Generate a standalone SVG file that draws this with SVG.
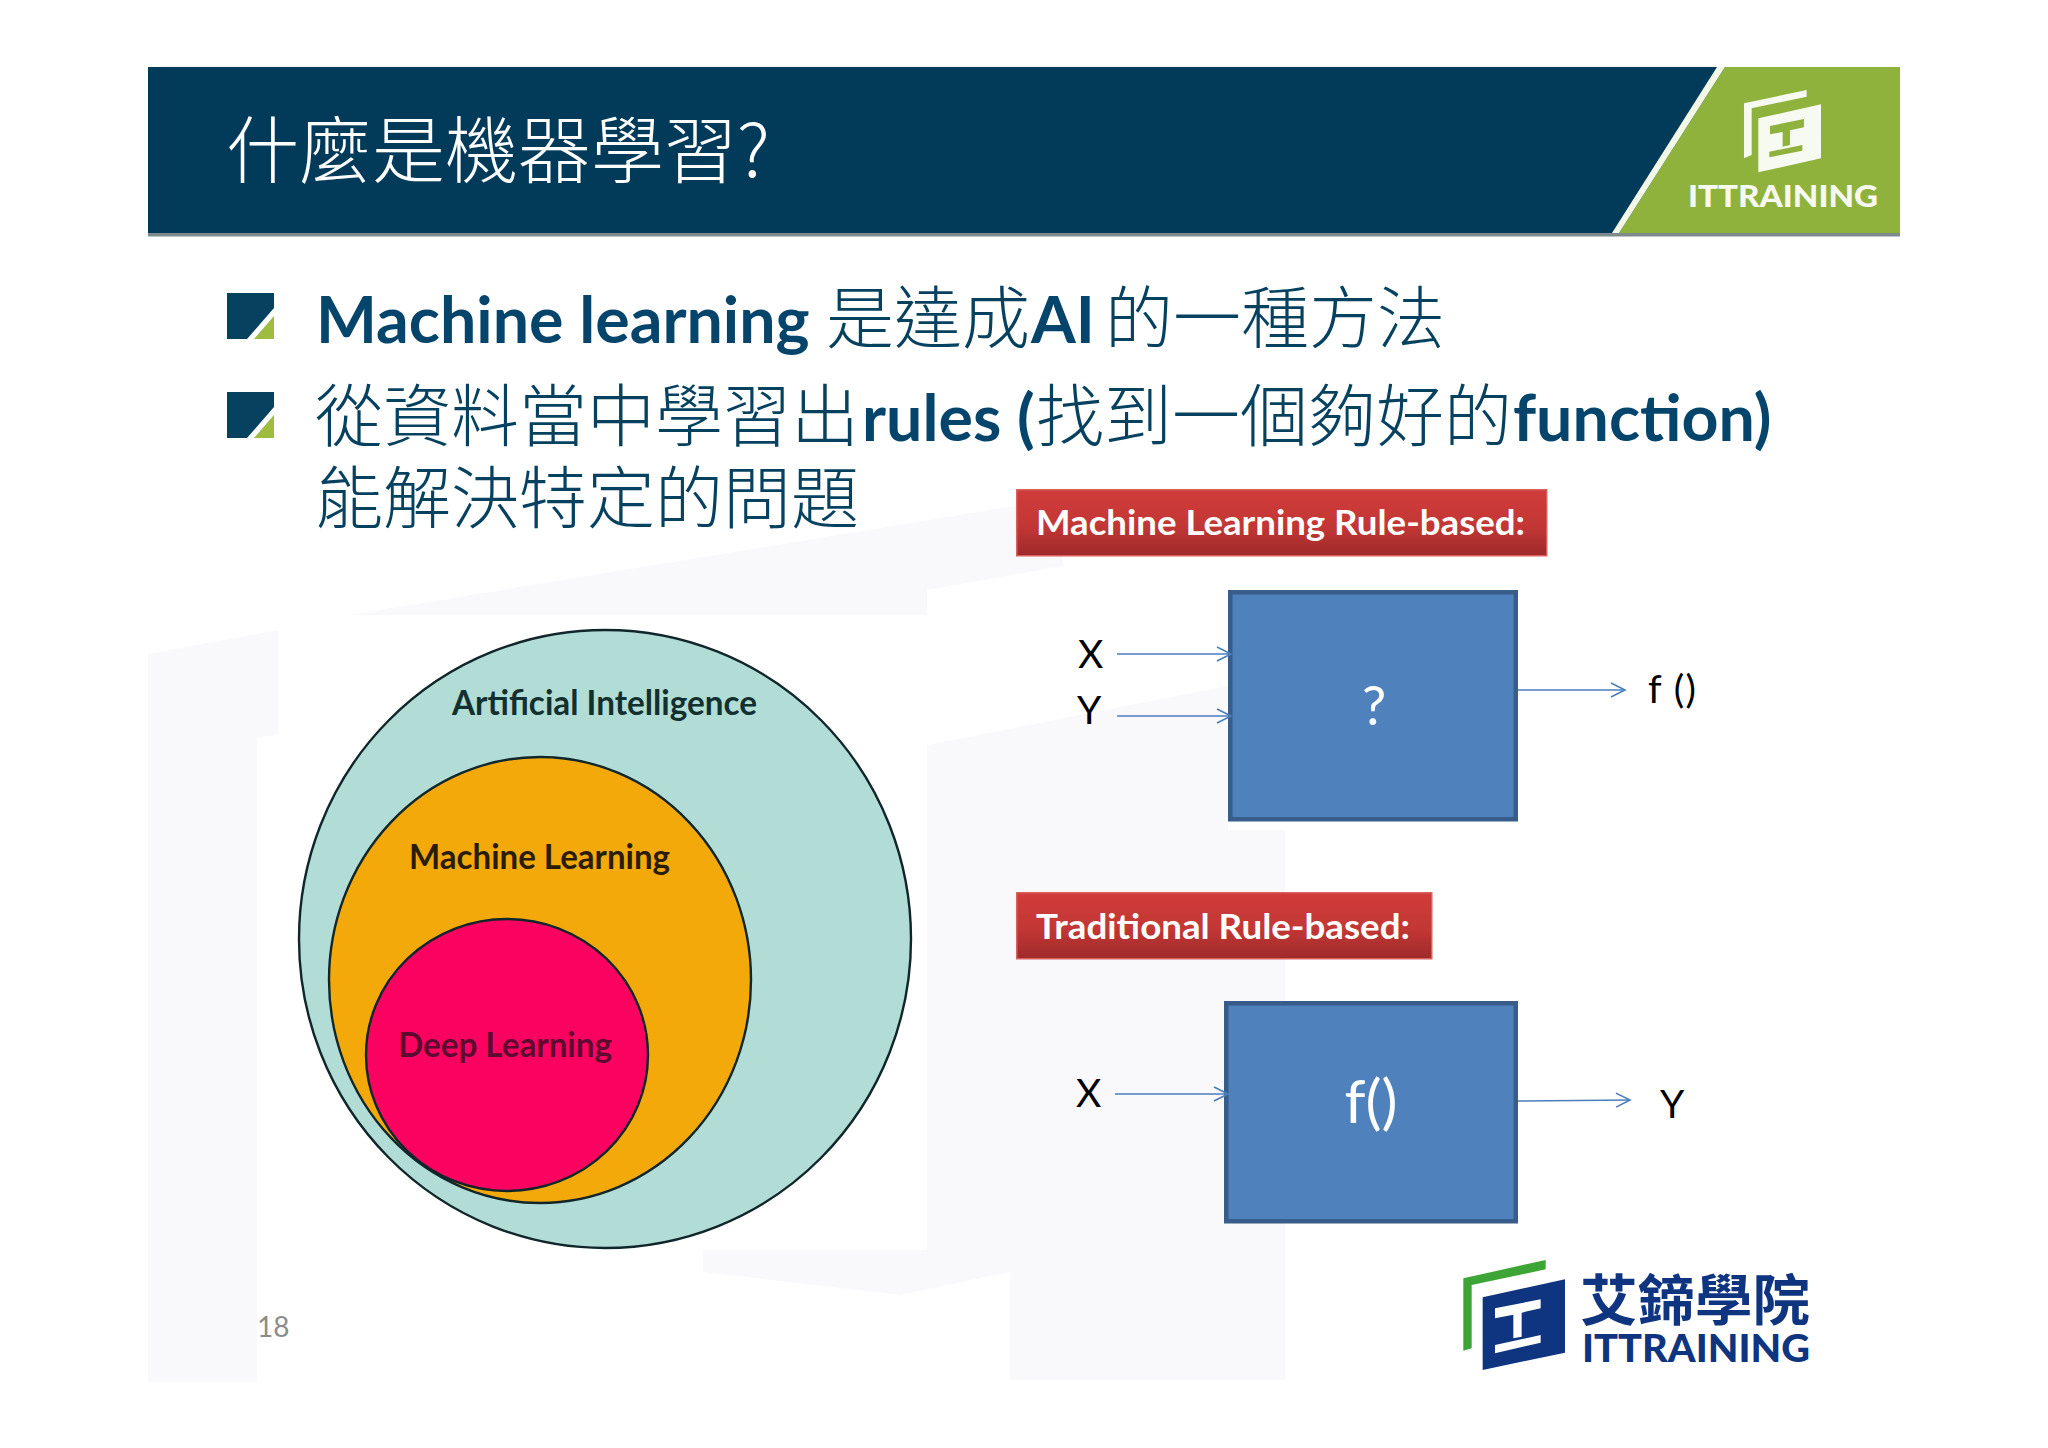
<svg xmlns="http://www.w3.org/2000/svg" width="2048" height="1448" viewBox="0 0 2048 1448">
<style>
.cjk{font-family:"Noto Sans CJK TC","Noto Sans CJK SC",sans-serif;font-weight:300}
.lat{font-family:Lato,"Open Sans",sans-serif}
.navy{fill:#06415f}
.body{font-size:68px;font-family:"Noto Sans CJK TC","Noto Sans CJK SC",sans-serif;font-weight:300}
.en{font-family:Lato,"Open Sans",sans-serif;font-weight:700;font-size:64.5px;fill:#05456b}
.tag{font-size:34px;fill:#fff;font-weight:700}
.lbl{font-size:39px;fill:#000}
.vn{font-family:Lato,"Open Sans",sans-serif;font-weight:700;font-size:34px}
.box{fill:#4f81bd;stroke:#385d8a;stroke-width:4.5}
.red{fill:url(#redg);stroke:#d9605c;stroke-width:1.5}
.arr{fill:none;stroke:#4a7ebb;stroke-width:1.6;marker-end:url(#open)}
.ven{stroke:#10262a;stroke-width:2.4}
.faint{fill:#f9f9fb}
</style>
<defs>
<linearGradient id="redg" x1="0" y1="0" x2="0" y2="1"><stop offset="0" stop-color="#d03c3a"/><stop offset="0.55" stop-color="#c23735"/><stop offset="1" stop-color="#9e2a2a"/></linearGradient>
<marker id="open" markerWidth="18" markerHeight="20" refX="15" refY="8" orient="auto" markerUnits="userSpaceOnUse" viewBox="0 0 18 16"><path d="M1 1 L15 8 L1 15" fill="none" stroke="#4a7ebb" stroke-width="1.6"/></marker>
</defs>
<rect width="2048" height="1448" fill="#fff"/>
<g id="background">
<polygon class="faint" points="148,654 278,630 278,735 257,738 257,1382 148,1382"/>
<polygon class="faint" points="350,615 1063,498 1063,566 927,590 927,615"/>
<polygon class="faint" points="927,745 1228,686 1228,830 1285,830 1285,1380 1010,1380 1010,1272 900,1295 703,1272 703,1250 927,1250"/>
</g>
<g id="header">
<rect x="148" y="67" width="1752" height="166" fill="#023b59"/>
<rect x="148" y="233" width="1752" height="3.5" fill="#7f8a8c"/>
<polygon points="1725,67 1900,67 1900,233 1619,233" fill="#8fb23d"/>
<polygon points="1717,67 1725,67 1619,233 1612,233" fill="#f2f7e6"/>
<text class="cjk" x="226" y="177" font-size="73" fill="#fff">什麼是機器學習?</text>
<g transform="translate(1600,50) scale(.3333)" fill="#f7faf0">
<polygon points="432,160 620,120 620,140 455,175 455,315 432,325"/>
<path fill-rule="evenodd" d="M475,205 L663,163 L663,325 L475,367Z M510,228 L612,207 L612,232 L570,241 L570,285 L548,290 L548,246 L510,253Z M508,305 L607,285 L607,302 L508,322Z"/>
</g>
<text class="lat" font-weight="900" x="1688" y="207" font-size="30" fill="#f7faf0" textLength="190" lengthAdjust="spacingAndGlyphs">ITTRAINING</text>
</g>
<g id="bullets">
<polygon class="navy" points="227,293 274,293 274,308 247,339 227,339"/>
<polygon points="274,316 274,339 254,339" fill="#9ebc3f"/>
<polygon class="navy" points="227,392 274,392 274,407 247,438 227,438"/>
<polygon points="274,415 274,438 254,438" fill="#9ebc3f"/>
<text class="body navy" y="343"><tspan class="en" x="316">Machine learning</tspan><tspan x="826">是達成</tspan><tspan class="en" x="1031">AI</tspan><tspan x="1105">的一種方法</tspan></text>
<text class="body navy" y="441"><tspan x="315">從資料當中學習出</tspan><tspan class="en" x="862">rules (</tspan><tspan x="1036">找到一個夠好的</tspan><tspan class="en" x="1513">function)</tspan></text>
<text class="body navy" x="315" y="523">能解決特定的問題</text>
</g>
<g id="venn-ai"><ellipse class="ven" cx="605" cy="939" rx="306" ry="309" fill="#b2ddd6"/><text class="vn" x="452" y="715" fill="#12302f" textLength="305" lengthAdjust="spacingAndGlyphs">Artificial Intelligence</text></g>
<g id="venn-ml"><ellipse class="ven" cx="540" cy="980" rx="211" ry="223" fill="#f4a90b"/><text class="vn" x="409" y="869" fill="#2a1c05" textLength="261" lengthAdjust="spacingAndGlyphs">Machine Learning</text></g>
<g id="venn-dl"><ellipse class="ven" cx="507" cy="1055" rx="141" ry="136" fill="#fb0261"/><text class="vn" x="398" y="1057" fill="#5e0a30" textLength="214" lengthAdjust="spacingAndGlyphs">Deep Learning</text></g>
<g id="tag-ml"><rect class="red" x="1016.75" y="489.75" width="530" height="66"/><text class="lat tag" x="1036" y="535" textLength="489" lengthAdjust="spacingAndGlyphs">Machine Learning Rule-based:</text></g>
<g id="tag-trad"><rect class="red" x="1016.75" y="892.75" width="415" height="66"/><text class="lat tag" x="1036" y="939" textLength="374" lengthAdjust="spacingAndGlyphs">Traditional Rule-based:</text></g>
<g id="box-ml"><rect class="box" x="1230.25" y="592.25" width="285.5" height="227"/><text class="lat" x="1374" y="725" font-size="54" fill="#fff" text-anchor="middle">?</text></g>
<g id="box-trad"><rect class="box" x="1226.25" y="1003.25" width="289.5" height="218"/><text class="lat" x="1371" y="1123" font-size="60" fill="#fff" text-anchor="middle">f()</text></g>
<g id="connectors">
<line class="arr" x1="1117" y1="654" x2="1231" y2="654"/>
<line class="arr" x1="1117" y1="716" x2="1231" y2="716"/>
<line class="arr" x1="1518" y1="690" x2="1625" y2="690"/>
<line class="arr" x1="1115" y1="1094" x2="1228" y2="1094"/>
<line class="arr" x1="1518" y1="1101" x2="1630" y2="1100"/>
</g>
<g id="labels">
<text class="lat lbl" x="1078" y="668">X</text>
<text class="lat lbl" x="1077" y="724">Y</text>
<text class="lat lbl" x="1648" y="703" textLength="48">f ()</text>
<text class="lat lbl" x="1076" y="1107">X</text>
<text class="lat lbl" x="1660" y="1118">Y</text>
<text class="lat" x="257" y="1337" font-size="28" fill="#8c8c8c">18</text>
</g>
<g id="logo">
<g transform="translate(1420,1240) scale(.3333)">
<polygon points="130,115 377,60 377,88 155,135 155,325 130,332" fill="#3ca535"/>
<path fill="#0f3480" fill-rule="evenodd" d="M188,172 L435,118 L435,338 L188,390Z M225,205 L362,178 L362,205 L305,218 L305,290 L280,295 L280,224 L225,235Z M225,315 L362,285 L362,308 L225,340Z"/>
</g>
<text x="1580" y="1320" font-size="55" font-weight="700" fill="#0f3480" style="font-family:'Noto Sans CJK TC',sans-serif" textLength="230" lengthAdjust="spacingAndGlyphs">艾鍗學院</text>
<text class="lat" font-weight="900" x="1582" y="1362" font-size="38" fill="#0f3480" textLength="228" lengthAdjust="spacingAndGlyphs">ITTRAINING</text>
</g>
</svg>
